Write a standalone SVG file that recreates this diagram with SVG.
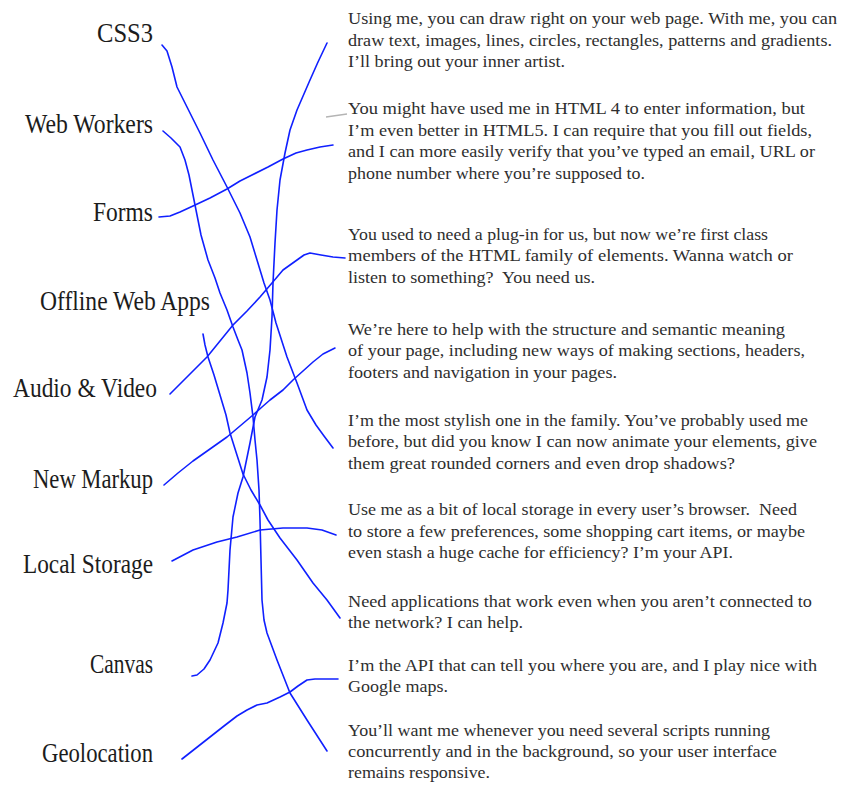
<svg xmlns="http://www.w3.org/2000/svg" width="846" height="789" viewBox="0 0 846 789">
<style>
.lbl{font-family:"Liberation Serif","DejaVu Serif",serif;font-size:27px;fill:#1c1c1c;}
.txt{font-family:"Liberation Serif","Times New Roman",serif;font-size:17.5px;fill:#2e2e2e;}
.conn{fill:none;stroke:#1020ff;stroke-width:1.6;stroke-linejoin:round;stroke-linecap:round;}
</style>
<rect width="846" height="789" fill="#ffffff"/>
<g id="labels">
<g id="lbl-css3"><text class="lbl" x="97" y="42" textLength="56" lengthAdjust="spacingAndGlyphs">CSS3</text></g>
<g id="lbl-webworkers"><text class="lbl" x="25" y="133" textLength="128" lengthAdjust="spacingAndGlyphs">Web Workers</text></g>
<g id="lbl-forms"><text class="lbl" x="93" y="221" textLength="60" lengthAdjust="spacingAndGlyphs">Forms</text></g>
<g id="lbl-offline"><text class="lbl" x="40" y="310" textLength="170" lengthAdjust="spacingAndGlyphs">Offline Web Apps</text></g>
<g id="lbl-audiovideo"><text class="lbl" x="13" y="397" textLength="144" lengthAdjust="spacingAndGlyphs">Audio &amp; Video</text></g>
<g id="lbl-newmarkup"><text class="lbl" x="33" y="488" textLength="120" lengthAdjust="spacingAndGlyphs">New Markup</text></g>
<g id="lbl-localstorage"><text class="lbl" x="23" y="573" textLength="130" lengthAdjust="spacingAndGlyphs">Local Storage</text></g>
<g id="lbl-canvas"><text class="lbl" x="90" y="673" textLength="63" lengthAdjust="spacingAndGlyphs">Canvas</text></g>
<g id="lbl-geolocation"><text class="lbl" x="42" y="762" textLength="111" lengthAdjust="spacingAndGlyphs">Geolocation</text></g>
</g>
<g id="descriptions">
<g id="desc-canvas">
<text class="txt" x="348" y="24" textLength="489" lengthAdjust="spacingAndGlyphs">Using me, you can draw right on your web page. With me, you can</text>
<text class="txt" x="348" y="46" textLength="484" lengthAdjust="spacingAndGlyphs">draw text, images, lines, circles, rectangles, patterns and gradients.</text>
<text class="txt" x="348" y="67" textLength="217" lengthAdjust="spacingAndGlyphs">I’ll bring out your inner artist.</text>
</g>
<g id="desc-forms">
<text class="txt" x="348" y="114" textLength="457" lengthAdjust="spacingAndGlyphs">You might have used me in HTML 4 to enter information, but</text>
<text class="txt" x="348" y="136" textLength="464" lengthAdjust="spacingAndGlyphs">I’m even better in HTML5. I can require that you fill out fields,</text>
<text class="txt" x="348" y="157" textLength="467" lengthAdjust="spacingAndGlyphs">and I can more easily verify that you’ve typed an email, URL or</text>
<text class="txt" x="348" y="179" textLength="297" lengthAdjust="spacingAndGlyphs">phone number where you’re supposed to.</text>
</g>
<g id="desc-audiovideo">
<text class="txt" x="348" y="240" textLength="420" lengthAdjust="spacingAndGlyphs">You used to need a plug-in for us, but now we’re first class</text>
<text class="txt" x="348" y="261" textLength="445" lengthAdjust="spacingAndGlyphs">members of the HTML family of elements. Wanna watch or</text>
<text class="txt" x="348" y="283" textLength="247" lengthAdjust="spacingAndGlyphs" xml:space="preserve">listen to something?  You need us.</text>
</g>
<g id="desc-newmarkup">
<text class="txt" x="348" y="335" textLength="437" lengthAdjust="spacingAndGlyphs">We’re here to help with the structure and semantic meaning</text>
<text class="txt" x="348" y="356" textLength="457" lengthAdjust="spacingAndGlyphs">of your page, including new ways of making sections, headers,</text>
<text class="txt" x="348" y="378" textLength="269" lengthAdjust="spacingAndGlyphs">footers and navigation in your pages.</text>
</g>
<g id="desc-css3">
<text class="txt" x="348" y="426" textLength="460" lengthAdjust="spacingAndGlyphs">I’m the most stylish one in the family. You’ve probably used me</text>
<text class="txt" x="348" y="447" textLength="469" lengthAdjust="spacingAndGlyphs">before, but did you know I can now animate your elements, give</text>
<text class="txt" x="348" y="469" textLength="387" lengthAdjust="spacingAndGlyphs">them great rounded corners and even drop shadows?</text>
</g>
<g id="desc-localstorage">
<text class="txt" x="348" y="515" textLength="449" lengthAdjust="spacingAndGlyphs" xml:space="preserve">Use me as a bit of local storage in every user’s browser.  Need</text>
<text class="txt" x="348" y="537" textLength="457" lengthAdjust="spacingAndGlyphs">to store a few preferences, some shopping cart items, or maybe</text>
<text class="txt" x="348" y="558" textLength="385" lengthAdjust="spacingAndGlyphs">even stash a huge cache for efficiency? I’m your API.</text>
</g>
<g id="desc-offline">
<text class="txt" x="348" y="607" textLength="464" lengthAdjust="spacingAndGlyphs">Need applications that work even when you aren’t connected to</text>
<text class="txt" x="348" y="628" textLength="175" lengthAdjust="spacingAndGlyphs">the network? I can help.</text>
</g>
<g id="desc-geolocation">
<text class="txt" x="348" y="671" textLength="469" lengthAdjust="spacingAndGlyphs">I’m the API that can tell you where you are, and I play nice with</text>
<text class="txt" x="348" y="692" textLength="100" lengthAdjust="spacingAndGlyphs">Google maps.</text>
</g>
<g id="desc-webworkers">
<text class="txt" x="348" y="736" textLength="422" lengthAdjust="spacingAndGlyphs">You’ll want me whenever you need several scripts running</text>
<text class="txt" x="348" y="757" textLength="429" lengthAdjust="spacingAndGlyphs">concurrently and in the background, so your user interface</text>
<text class="txt" x="348" y="778" textLength="142" lengthAdjust="spacingAndGlyphs">remains responsive.</text>
</g>
</g>
<g id="connectors">
<path d="M326,117 L347,114" fill="none" stroke="#b4b4b4" stroke-width="1.3"/>
<path id="c-css3" class="conn" d="M162,45 L167,51 172,67 177,87 187,107 200,133 213,160 227,187 240,213 250,237 257,260 264,283 270,300 276,323 287,357 297,383 307,410 316,425 324,436 333,448"/>
<path id="c-webworkers" class="conn" d="M163,131 L171,138 180,147 185,160 189,175 192,190 196,210 201,235 208,260 215,278 220,293 227,310 233,327 238,340 242,350 247,373 250,393 253,417 255,440 257,460 259,490 260,520 261,560 262,600 264,620 267,633 277,660 290,693 307,720 327,751"/>
<path id="c-forms" class="conn" d="M159,217 L170,216 180,212 193,206 210,198 227,189 240,181 252,175 268,167 283,159 296,153 307,150 320,147 333,145"/>
<path id="c-offline" class="conn" d="M203,334 L205,345 208,357 214,375 220,395 226,415 230,433 236,452 243,474 251,490 260,505 268,520 280,538 297,560 313,583 327,600 340,618"/>
<path id="c-audiovideo" class="conn" d="M170,394 L188,376 207,357 220,341 233,325 247,311 260,297 272,283 283,270 297,260 304,255 310,253 321,255 333,257 345,258"/>
<path id="c-newmarkup" class="conn" d="M164,485 L178,473 193,461 210,449 227,437 240,426 253,415 262,407 270,400 283,390 293,380 303,371 313,362 323,354 335,348"/>
<path id="c-canvas" class="conn" d="M192,676 L197,675 204,669 210,660 218,643 223,623 227,603 228,590 229,570 230,550 233,517 238,493 243,477 250,443 255,417 262,400 267,377 270,350 272,317 273,283 275,243 277,210 280,180 285,153 290,130 297,110 310,80 318,62 327,43"/>
<path id="c-localstorage" class="conn" d="M172,561 L193,550 217,542 237,537 260,530 283,528 307,528 322,530 336,535"/>
<path id="c-geolocation" class="conn" d="M182,759 L196,748 210,737 224,726 237,716 247,710 257,705 267,703 280,697 290,692 298,686 307,680 315,679 338,679"/>
</g>
</svg>
